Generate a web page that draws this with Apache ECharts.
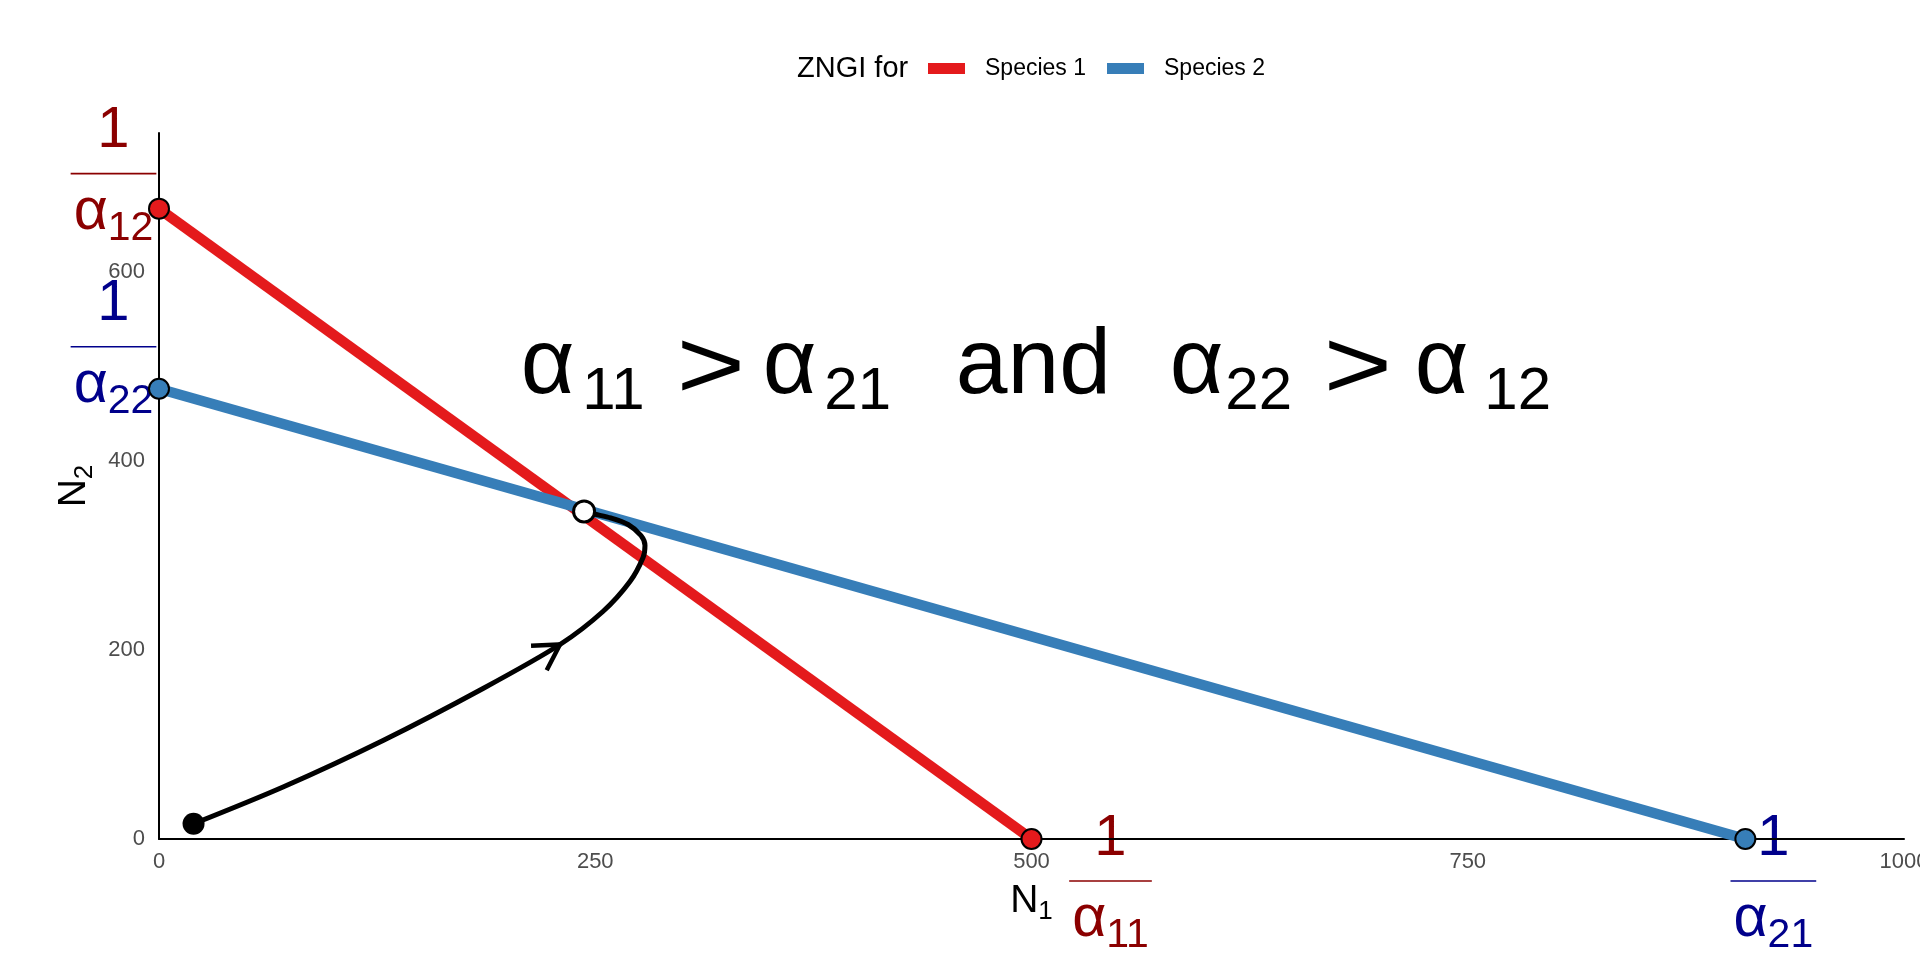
<!DOCTYPE html>
<html><head><meta charset="utf-8">
<script src="https://cdn.jsdelivr.net/npm/echarts@6/dist/echarts.min.js"></script>
<style>html,body{margin:0;padding:0;background:#fff}#c{width:1920px;height:960px}</style>
</head><body><div id="c"></div>
<script>
// ---------------- data ----------------
const species = ['Species 1', 'Species 2'];
const zngi1 = [[0, 666.67], [500, 0]];        // 1/a12 on N2, 1/a11 on N1
const zngi2 = [[0, 476.19], [909.09, 0]];     // 1/a22 on N2, 1/a21 on N1
const trajN1 = [19.8, 71.1, 128.4, 185.7, 229.8, 254.4, 269.9, 277.4, 278.5, 276.2, 268.8, 259.0, 249.3, 243.6];
const trajN2 = [16.1, 55.0, 104.2, 159.2, 205.7, 240.6, 272.3, 297.7, 310.4, 321.0, 332.6, 339.5, 343.7, 346.4];
const arrowAt = 4;
const startPoint = [19.8, 16.1];
const endPoint = [243.6, 346.4];
const xTicks = [0, 250, 500, 750, 1000];
const yTicks = [0, 200, 400, 600];

// ---------------- chart ----------------
const FONT = "'Liberation Sans', Arial, Helvetica, sans-serif";
const RED = '#E41A1C', BLUE = '#377EB8', DRED = '#8B0000', DBLUE = '#00008B';
const chart = echarts.init(document.getElementById('c'), null, {renderer: 'canvas'});

const traj = trajN1.map((v, i) => [v, trajN2[i]]);

chart.setOption({
  backgroundColor: '#fff',
  animation: false,
  grid: {left: 159, right: 16, top: 133, bottom: 121, containLabel: false, outerBoundsMode: 'none'},
  legend: {
    data: species, left: 928, top: 57, padding: 0,
    icon: 'rect', itemWidth: 37, itemHeight: 11, itemGap: 21,
    itemStyle: {borderWidth: 0},
    textStyle: {fontFamily: FONT, fontSize: 23, color: '#000', padding: [0, 0, 0, 15]}
  },
  xAxis: {
    type: 'value', min: 0, max: 1000, interval: 250,
    axisLine: {show: true, lineStyle: {color: '#000', width: 2}},
    axisTick: {show: false}, splitLine: {show: false},
    axisLabel: {color: '#4D4D4D', fontFamily: FONT, fontSize: 22, margin: 12,
      formatter: v => xTicks.includes(v) ? String(v) : ''}
  },
  yAxis: {
    type: 'value', min: 0, max: 746.67, interval: 200,
    axisLine: {show: true, lineStyle: {color: '#000', width: 2}},
    axisTick: {show: false}, splitLine: {show: false},
    axisLabel: {color: '#4D4D4D', fontFamily: FONT, fontSize: 22, margin: 14, showMaxLabel: false,
      padding: [5, 0, 0, 0],
      formatter: v => yTicks.includes(v) ? String(v) : ''}
  },
  series: [
    {name: species[0], type: 'line', data: zngi1, showSymbol: false, symbol: 'none',
      lineStyle: {color: RED, width: 10.5}, itemStyle: {color: RED}, z: 2},
    {name: species[1], type: 'line', data: zngi2, showSymbol: false, symbol: 'none',
      lineStyle: {color: BLUE, width: 10.5}, itemStyle: {color: BLUE}, z: 3},
    {name: 'trajectory', type: 'line', data: traj, smooth: 0.3, showSymbol: false, symbol: 'none',
      lineStyle: {color: '#000', width: 5}, z: 4},
    {name: 'arrow', type: 'custom', data: [[trajN1[arrowAt], trajN2[arrowAt]]], z: 5,
      renderItem: function (params, api) {
        const tip = api.coord([api.value(0), api.value(1)]);
        const a = api.coord([trajN1[arrowAt - 1], trajN2[arrowAt - 1]]);
        const b = api.coord([trajN1[arrowAt + 1], trajN2[arrowAt + 1]]);
        const back = Math.atan2(a[1] - b[1], a[0] - b[0]);
        const L = 29, h = Math.PI / 6;
        return {type: 'polyline', shape: {points: [
          [tip[0] + L * Math.cos(back + h), tip[1] + L * Math.sin(back + h)],
          tip,
          [tip[0] + L * Math.cos(back - h), tip[1] + L * Math.sin(back - h)]]},
          style: {stroke: '#000', lineWidth: 4.5, fill: null}};
      }},
    {name: 'int1', type: 'scatter', data: zngi1, symbol: 'circle', symbolSize: 20,
      itemStyle: {color: RED, borderColor: '#000', borderWidth: 2, opacity: 1}, z: 6},
    {name: 'int2', type: 'scatter', data: zngi2, symbol: 'circle', symbolSize: 20,
      itemStyle: {color: BLUE, borderColor: '#000', borderWidth: 2, opacity: 1}, z: 6},
    {name: 'start', type: 'scatter', data: [startPoint], symbol: 'circle', symbolSize: 22,
      itemStyle: {color: '#000', opacity: 1}, z: 7},
    {name: 'end', type: 'scatter', data: [endPoint], symbol: 'circle', symbolSize: 21,
      itemStyle: {color: '#fff', borderColor: '#000', borderWidth: 3, opacity: 1}, z: 7}
  ]
});

// ---------------- math annotations ----------------
const mctx = document.createElement('canvas').getContext('2d');
function fontStr(size) { return size + 'px ' + FONT; }
function measure(text, size) { mctx.font = fontStr(size); return mctx.measureText(text).width; }
function midToBase(size) {
  mctx.font = fontStr(size); mctx.textBaseline = 'middle';
  const d = mctx.measureText('H').actualBoundingBoxDescent;
  mctx.textBaseline = 'alphabetic';
  return d;
}
function textEl(p, x, base, color) {
  return {type: 'text', x: x, y: base + (p.dy || 0) - midToBase(p.size), silent: true,
    scaleX: p.sx || 1,
    style: {text: p.t, font: fontStr(p.size), fill: color, align: 'left', verticalAlign: 'middle'}};
}
// sequential layout along a baseline
function run(pieces, x0, base, color) {
  let x = x0; const els = [];
  pieces.forEach(p => { els.push(textEl(p, x, base, color)); x += measure(p.t, p.size) * (p.sx || 1); });
  return els;
}
function runWidth(pieces) { return pieces.reduce((s, p) => s + measure(p.t, p.size) * (p.sx || 1), 0); }

function fraction(cx, barY, sub, color) {
  const numSize = 58, denSize = 59, subSize = 41;
  const num = [{t: '1', size: numSize}];
  const den = [{t: 'α', size: denSize}, {t: sub, size: subSize, dy: 11}];
  const nw = runWidth(num), dw = runWidth(den);
  const barLen = Math.max(nw, dw) + 6;
  let els = [];
  els = els.concat(run(num, cx - nw / 2, barY - 26.5, color));
  els.push({type: 'line', silent: true, shape: {x1: cx - barLen / 2, y1: barY, x2: cx + barLen / 2, y2: barY},
    style: {stroke: color, lineWidth: 1.6}});
  els = els.concat(run(den, cx - dw / 2, barY + 55, color));
  return els;
}

function layout() {
  const px = p => chart.convertToPixel({gridIndex: 0}, p);
  const pR0 = px(zngi1[0]), pR1 = px(zngi1[1]);
  const pB0 = px(zngi2[0]), pB1 = px(zngi2[1]);
  const origin = px([0, 0]);
  const topRight = px([1000, 746.67]);
  let g = [];
  // left fractions: bar ends at the y-axis
  const leftCx = origin[0] - 1 - 44.5;
  g = g.concat(fraction(leftCx, pR0[1] - 35, '12', DRED));
  g = g.concat(fraction(leftCx, pB0[1] - 42, '22', DBLUE));
  // bottom fractions
  g = g.concat(fraction(pR1[0] + 79, origin[1] + 42, '11', DRED));
  g = g.concat(fraction(pB1[0] + 28, origin[1] + 42, '21', DBLUE));

  // big statement: pieces with their offsets from the statement's left edge
  const M = 93, S = 60, D = 16;
  const big = [
    {t: 'α', size: M, off: 0}, {t: '11', size: S, dy: D, off: 60},
    {t: '>', size: 98, sx: 1.2, dy: 6, off: 156},
    {t: 'α', size: M, off: 242}, {t: '21', size: S, dy: D, off: 302},
    {t: 'and', size: M, off: 435},
    {t: 'α', size: M, off: 649}, {t: '22', size: S, dy: D, off: 703},
    {t: '>', size: 98, sx: 1.2, dy: 6, off: 803},
    {t: 'α', size: M, off: 894}, {t: '12', size: S, dy: D, off: 962}
  ];
  const bigW = 1017;
  const bigLeft = (origin[0] + topRight[0]) / 2 + 2 - bigW / 2;
  big.forEach(p => g.push(textEl(p, bigLeft + p.off - 0.045 * p.size, 393, '#000')));

  // axis titles
  const n1 = [{t: 'N', size: 39}, {t: '1', size: 26, dy: 7}];
  const n1w = runWidth(n1);
  const midX = (origin[0] + topRight[0]) / 2;
  g = g.concat(run(n1, midX - n1w / 2, origin[1] + 73, '#000'));
  const n2 = [{t: 'N', size: 39}, {t: '2', size: 26, dy: 7}];
  const n2w = runWidth(n2);
  const midY = (origin[1] + topRight[1]) / 2;
  g.push({type: 'group', x: 85, y: midY, rotation: Math.PI / 2, children: run(n2, -n2w / 2, 0, '#000')});

  // legend title
  g = g.concat(run([{t: 'ZNGI for', size: 29}], 797, 76.5, '#000'));

  chart.setOption({graphic: {elements: g}});
}
layout();
</script>
</body></html>
